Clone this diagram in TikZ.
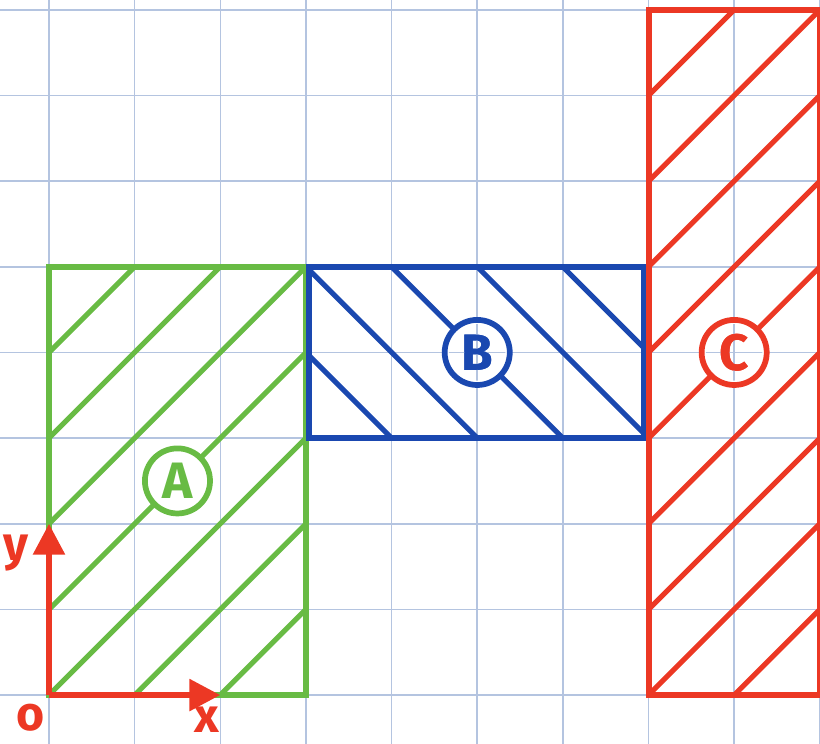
\documentclass[tikz,border=0pt]{standalone}
\usepackage{fontspec}
\setmainfont{Fira Sans}
\usetikzlibrary{arrows.meta,positioning,calc}
\definecolor{gridblue}{RGB}{180,196,224}
\definecolor{areagreen}{RGB}{104,187,68}
\definecolor{areablue}{RGB}{26,72,176}
\definecolor{areared}{RGB}{236,56,36}

\begin{document}
\begin{tikzpicture}[
    gridline/.style={draw=gridblue, line width=0.5pt},
    border/.style={line width=2pt},
    hatch/.style={line width=1.7pt},
    tag/.style={draw=#1, text=#1, circle, fill=white, line width=1.9pt, minimum size=0.76cm, inner sep=0pt, font=\fontsize{17}{19}\selectfont\bfseries},
    axis/.style={draw=areared, line width=2pt, -{Triangle[length=0.36cm, width=0.36cm]}},
    axlabel/.style={text=areared, font=\fontsize{16}{18}\selectfont\bfseries}
]
\useasboundingbox (-0.572,-0.560) rectangle (9.002,8.115);

% paper grid
\draw[gridline] (-1,-1) grid (10,9);

% Area A
\begin{scope}
    \clip (0,0) rectangle (3,5);
    \foreach \c in {-5,...,3}
        \draw[hatch, areagreen] (\c-1,-1) -- (\c+7,7);
\end{scope}
\draw[border, areagreen] (0,0) rectangle (3,5);

% Area B
\begin{scope}
    \clip (3.04,3) rectangle (6.95,5);
    \foreach \c in {6,...,12}
        \draw[hatch, areablue] (\c-2,2) -- (\c-6,6);
\end{scope}
\draw[border, areablue] (3.04,3) rectangle (6.95,5);

% Area C
\begin{scope}
    \clip (7,0) rectangle (9,8);
    \foreach \c in {-1,...,8}
        \draw[hatch, areared] (\c-1,-1) -- (\c+9,9);
\end{scope}
\draw[border, areared] (7,0) rectangle (9,8);

% labels
\node[tag=areagreen] (labA) at (1.5,2.5) {A};
\node[tag=areablue] (labB) at (5,4) {B};
\node[tag=areared] (labC) at (8,4) {C};

% grid shows through the label rings
\foreach \n in {labB,labC} {
    \begin{scope}
        \clip (\n.center) circle (0.33cm);
        \draw[gridline] (-1,-1) grid (10,9);
    \end{scope}
}
\node[text=areablue, font=\fontsize{17}{19}\selectfont\bfseries] at (labB) {B};
\node[text=areared, font=\fontsize{17}{19}\selectfont\bfseries] at (labC) {C};

% axes
\coordinate (origin) at (0,0);
\coordinate (xtip) at (2,0);
\coordinate (ytip) at (0,2);
\draw[axis] (origin) -- (xtip);
\draw[axis] (origin) -- (ytip);
\node[axlabel] (olab) at (-0.22,-0.27) {o};
\node[axlabel] (xlab) at (1.84,-0.29) {x};
\node[axlabel] (ylab) at (-0.38,1.66) {y};

\end{tikzpicture}
\end{document}
